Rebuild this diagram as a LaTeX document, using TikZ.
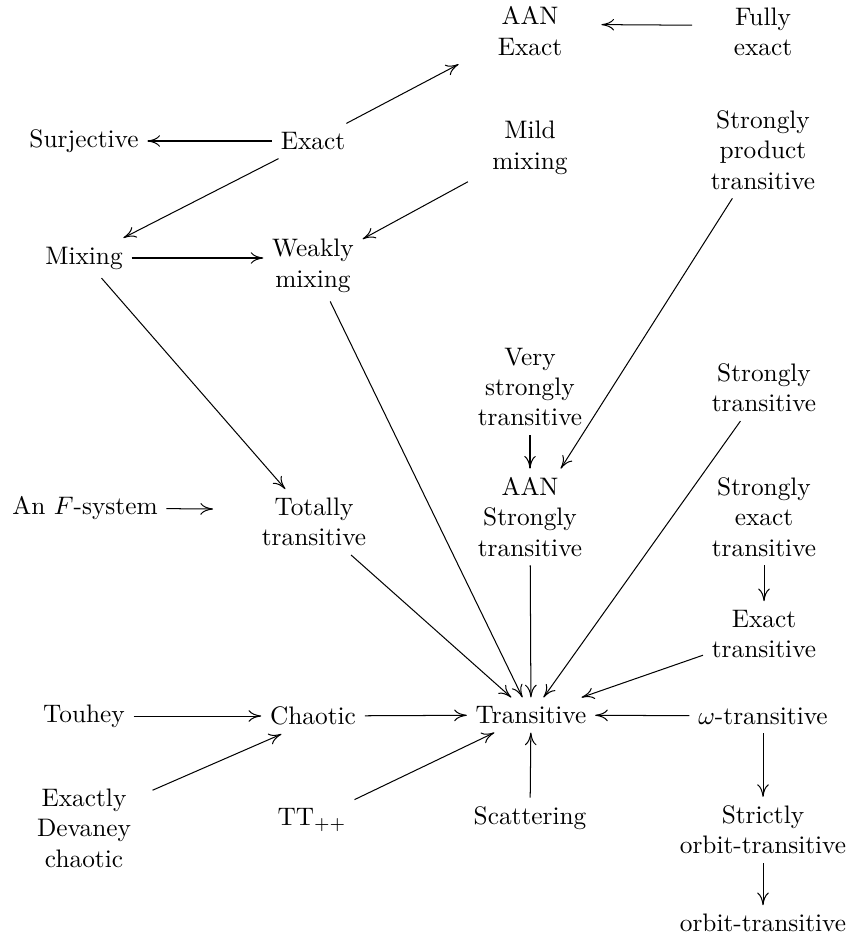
\documentclass[tikz,border=0pt]{standalone}
\usepackage{amsmath}
\usetikzlibrary{arrows.meta, positioning}
\tikzset{prop/.style = {
  % Text:
  align=center,
  inner sep=3.3pt
  }}
\tikzset{arrow/.style = {
  -{Computer Modern Rightarrow[length=5pt, width=4.6pt]},
  line width=0.4pt,
  draw=black
  }}

\begin{document}
\begin{tikzpicture}[x=0.395pt, y=-0.395pt]
  \useasboundingbox (0,0) rectangle (849,935);
  %
  % Specification of nodes
  %
  \node (aanexact) [prop] at (530,31) {AAN\\Exact};
  \node (fullyexact) [prop] at (763,32) {Fully\\exact};

  \node (surjective) [prop] at (84,141) {Surjective};
  \node (exact) [prop] at (313,141) {Exact};
  \node (mildmixing) [prop] at (530,148) {Mild\\mixing};
  \node (sptrans) [prop] at (763,150) {Strongly\\product\\transitive};

  \node (mixing) [prop] at (84,258) {Mixing};
  \node (weakmixing) [prop] at (313,266) {Weakly\\mixing};

  \node (vstrans) [prop] at (530,387) {Very\\strongly\\transitive};
  \node (strans) [prop] at (764,388) {Strongly\\transitive};

  \node (fsystem) [prop] at (85,508) {An $F$-system};
  \coordinate (fsend) at (213,509);
  \node (totally) [prop] at (314,522) {Totally\\transitive};
  \node (aanstrans) [prop] at (530,517) {AAN\\Strongly\\transitive};
  \node (setrans) [prop] at (764,517) {Strongly\\exact\\transitive};
  \node (extrans) [prop] at (764,634) {Exact\\transitive};

  \node (touhey) [prop] at (84,716) {Touhey};
  \node (chaotic) [prop] at (313,716) {Chaotic};
  \node (transitive) [prop] at (531,715) {Transitive};
  \node (omegatrans) [prop] at (763,716) {$\omega$-transitive};

  \node (devaney) [prop] at (84,828) {Exactly\\Devaney\\chaotic};
  \node (ttpp) [prop] at (312,820) {TT$_{++}$};
  \node (scattering) [prop] at (530,818) {Scattering};
  \node (sotrans) [prop] at (763,830) {Strictly\\orbit-transitive};
  \node (otrans) [prop] at (763,923) {orbit-transitive};

  %
  % Specification of lines
  %
  \draw [arrow, shorten <=13pt, shorten >=12pt]
    ([yshift=2.6pt]fullyexact.west) -- ([yshift=2.6pt]aanexact.east);
  \draw [arrow] (exact) -- ([xshift=-12pt]aanexact.south west);
  \draw [arrow] (exact) -- (surjective);
  \draw [arrow] (exact) -- (mixing);
  \draw [arrow] (mixing) -- (mixing -| weakmixing.west);
  \draw [arrow, shorten <=7pt] (mildmixing) -- (weakmixing);
  \draw [arrow] (mixing) -- (totally);
  \draw [arrow] (weakmixing) -- (transitive);

  \draw [arrow] (sptrans) -- (aanstrans);
  \draw [arrow] (vstrans) -- (aanstrans);
  \draw [arrow] (aanstrans) -- (transitive);
  \draw [arrow] (strans) -- (transitive);
  \draw [arrow] (setrans) -- (extrans);
  \draw [arrow] (extrans) -- (transitive);
  \draw [arrow] (totally) -- (transitive);
  \draw [arrow] (fsystem) -- (fsend);

  \draw [arrow] (touhey) -- (chaotic);
  \draw [arrow] (chaotic) -- (transitive);
  \draw [arrow] (omegatrans) -- (transitive);
  \draw [arrow, shorten <=5.5pt] (devaney.30) -- ([xshift=8pt]chaotic.south west);
  \draw [arrow] (ttpp) -- (transitive);
  \draw [arrow] (scattering) -- (transitive);
  \draw [arrow] (omegatrans) -- (sotrans);
  \draw [arrow] (sotrans) -- (otrans);
\end{tikzpicture}
\end{document}
